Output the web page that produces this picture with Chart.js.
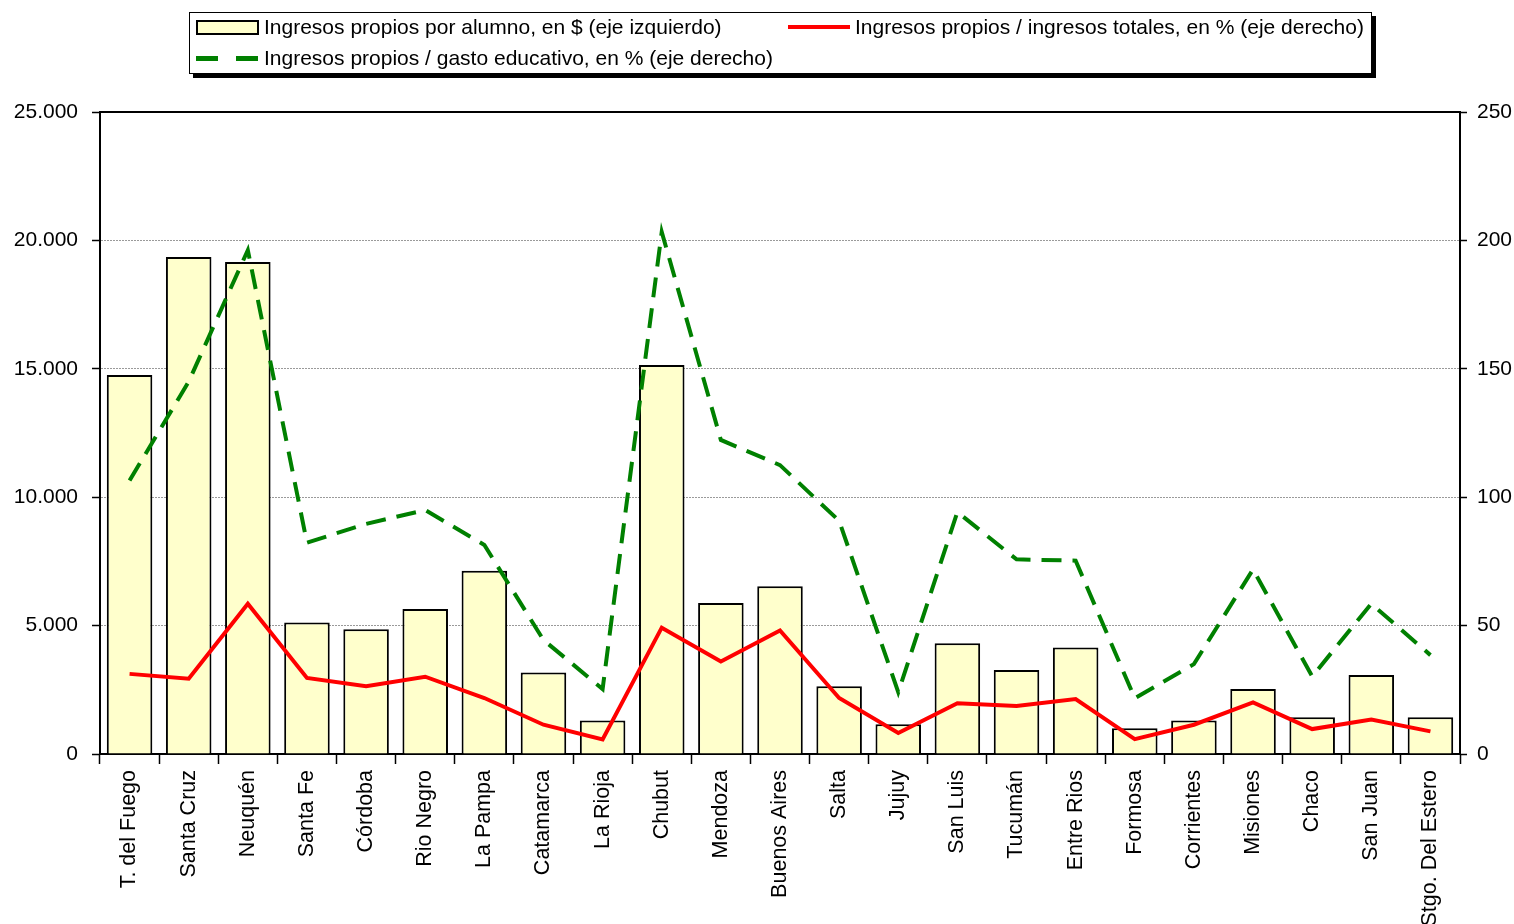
<!DOCTYPE html>
<html>
<head>
<meta charset="utf-8">
<script src="https://cdn.jsdelivr.net/npm/chart.js@4"></script>
<style>
  body { margin: 0; background: #fff; font-family: "Liberation Sans", Arial, sans-serif; }
  #wrap { position: relative; width: 1514px; height: 924px; }
  #leyenda {
    position: absolute; left: 189px; top: 12px; width: 1181px; height: 60px;
    border: 1px solid #000; box-shadow: 4px 4px 0 #000; background: #fff;
    font-size: 21px; color: #000;
  }
  .item { position: absolute; line-height: 24px; white-space: nowrap; }
  .sw { position: absolute; }
</style>
</head>
<body>
<div id="wrap">
  <canvas id="grafico" width="1514" height="924"></canvas>
  <div id="leyenda">
    <div class="sw" style="left:6px;top:7px;width:59px;height:11px;background:#FFFFCC;border:2px solid #000;"></div>
    <div class="item" style="left:74px;top:2px;">Ingresos propios por alumno, en $ (eje izquierdo)</div>
    <div class="sw" style="left:598px;top:12px;width:62px;height:4px;background:#FF0000;"></div>
    <div class="item" style="left:665px;top:2px;">Ingresos propios / ingresos totales, en % (eje derecho)</div>
    <div class="sw" style="left:6px;top:43px;width:22px;height:5px;background:#008000;"></div>
    <div class="sw" style="left:46px;top:43px;width:22px;height:5px;background:#008000;"></div>
    <div class="item" style="left:74px;top:33px;">Ingresos propios / gasto educativo, en % (eje derecho)</div>
  </div>
</div>
<script>
/* ============================
   DATOS
============================ */

const provincias = [
  'T. del Fuego', 'Santa Cruz', 'Neuquén', 'Santa Fe', 'Córdoba', 'Rio Negro',
  'La Pampa', 'Catamarca', 'La Rioja', 'Chubut', 'Mendoza', 'Buenos Aires',
  'Salta', 'Jujuy', 'San Luis', 'Tucumán', 'Entre Rios', 'Formosa',
  'Corrientes', 'Misiones', 'Chaco', 'San Juan', 'Stgo. Del Estero'
];

// ingresos propios por alumno, en $ (eje izquierdo)
const ingresosPorAlumno = [
  14760, 19350, 19160, 5120, 4860, 5650,
  7140, 3170, 1300, 15150, 5880, 6530,
  2640, 1160, 4310, 3270, 4150, 1000,
  1300, 2530, 1430, 3080, 1430
];

// ingresos propios / ingresos totales, en % (eje derecho)
const pctIngresosTotales = [
  31.2, 29.3, 58.5, 29.6, 26.4, 30.1,
  21.8, 11.4, 5.7, 49.2, 36, 48.1,
  21.8, 8.2, 19.8, 18.7, 21.4, 5.8,
  11.4, 20.1, 9.7, 13.4, 8.8
];

// ingresos propios / gasto educativo, en % (eje derecho)
const pctGastoEducativo = [
  106.5, 145, 196.2, 82.3, 89.6, 95,
  81.4, 44.4, 25.3, 203.3, 122.3, 112.5,
  90.8, 24.1, 94.2, 75.8, 75.3, 21.7,
  35, 71.9, 30.2, 58.5, 38.5
];

const ticksIzq = [0, 5000, 10000, 15000, 20000, 25000];
const ticksDer = [0, 50, 100, 150, 200, 250];

/* ============================
   FORMATO
============================ */

function miles(v) {
  return String(v).replace(/\B(?=(\d{3})+(?!\d))/g, '.');
}

const familia = '"Liberation Sans", Arial, sans-serif';
const fuente = { family: familia, size: 21 };
const fuenteX = { family: familia, size: 21.5 };

/* Linea superior del area */
const bordeSuperior = {
  id: 'bordeSuperior',
  afterDraw(chart) {
    const { ctx, chartArea } = chart;
    ctx.save();
    ctx.strokeStyle = '#000';
    ctx.lineWidth = 2;
    ctx.beginPath();
    ctx.moveTo(chartArea.left, chartArea.top);
    ctx.lineTo(chartArea.right, chartArea.top);
    ctx.stroke();
    ctx.restore();
  }
};

/* ============================
   GRAFICO
============================ */

new Chart(document.getElementById('grafico'), {
  type: 'bar',
  data: {
    labels: provincias,
    datasets: [
      {
        type: 'line',
        label: 'Ingresos propios / ingresos totales, en % (eje derecho)',
        data: pctIngresosTotales,
        yAxisID: 'y1',
        borderColor: '#FF0000',
        borderWidth: 4,
        pointRadius: 0,
        tension: 0,
        order: 1
      },
      {
        type: 'line',
        label: 'Ingresos propios / gasto educativo, en % (eje derecho)',
        data: pctGastoEducativo,
        yAxisID: 'y1',
        borderColor: '#008000',
        borderWidth: 4,
        borderDash: [20, 11],
        pointRadius: 0,
        tension: 0,
        order: 2
      },
      {
        label: 'Ingresos propios por alumno, en $ (eje izquierdo)',
        data: ingresosPorAlumno,
        yAxisID: 'y',
        backgroundColor: '#FFFFCC',
        borderColor: '#000',
        borderWidth: 2,
        barPercentage: 0.77,
        categoryPercentage: 1,
        order: 3
      }
    ]
  },
  options: {
    responsive: false,
    animation: false,
    layout: { padding: { top: 112, left: 0, right: 0, bottom: 0 } },
    plugins: {
      legend: { display: false },
      tooltip: { enabled: false }
    },
    scales: {
      x: {
        offset: true,
        grid: { offset: true, drawOnChartArea: false, tickLength: 10, tickColor: '#000', tickWidth: 1.5 },
        border: { color: '#000', width: 2 },
        ticks: {
          color: '#000', font: fuenteX, autoSkip: false,
          minRotation: 90, maxRotation: 90, padding: 6
        },
        afterFit(scale) { scale.height = 170; }
      },
      y: {
        position: 'left',
        min: 0, max: 25000,
        afterBuildTicks(scale) { scale.ticks = ticksIzq.map(v => ({ value: v })); },
        grid: {
          color: '#9a9a9a', lineWidth: 1, tickLength: 8,
          tickColor: '#000', tickWidth: 1.5, tickBorderDash: []
        },
        border: { color: '#000', width: 2, dash: [2, 1] },
        ticks: { color: '#000', font: fuente, padding: 14, callback: v => miles(v) },
        afterFit(scale) { scale.width = 100; }
      },
      y1: {
        position: 'right',
        min: 0, max: 250,
        afterBuildTicks(scale) { scale.ticks = ticksDer.map(v => ({ value: v })); },
        grid: { drawOnChartArea: false, tickLength: 7, tickColor: '#000', tickWidth: 1.5 },
        border: { color: '#000', width: 2 },
        ticks: { color: '#000', font: fuente, padding: 10 },
        afterFit(scale) { scale.width = 54; }
      }
    }
  },
  plugins: [bordeSuperior]
});
</script>
</body>
</html>
